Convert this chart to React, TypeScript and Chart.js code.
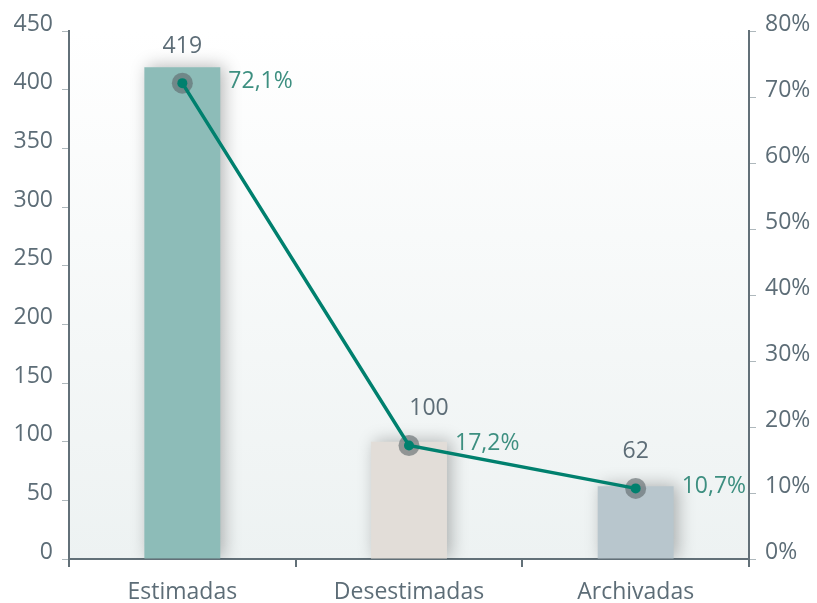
import React, { useEffect, useRef } from "react";
import { Chart, registerables } from "chart.js";

Chart.register(...registerables);

const categories = ["Estimadas", "Desestimadas", "Archivadas"];
const counts = [419, 100, 62];
const percents = [72.1, 17.2, 10.7];
const barColors = ["#8dbcb8", "#e2ddd8", "#b8c6cd"];
const leftTicks = [0, 50, 100, 150, 200, 250, 300, 350, 400, 450];
const rightTicks = [0, 10, 20, 30, 40, 50, 60, 70, 80];
const countLabelShift = [0, 20, 0];

const FONT = "'Open Sans'";
const FS = 23;
const TEXT = "#5d6d77";
const TEAL = "#00806e";
const PCT = "#3d8f80";
const AXIS = "#627078";

const bgPlugin = {
  id: "bgGrad",
  beforeDraw(chart: any) {
    const { ctx, chartArea } = chart;
    if (!chartArea) return;
    const g = ctx.createLinearGradient(0, chartArea.top, 0, chartArea.bottom);
    g.addColorStop(0, "#ffffff");
    g.addColorStop(1, "#edf2f2");
    ctx.save();
    ctx.fillStyle = g;
    ctx.fillRect(chartArea.left, chartArea.top, chartArea.right - chartArea.left, chartArea.bottom - chartArea.top);
    ctx.restore();
  },
};

const shadowPlugin = {
  id: "barShadow",
  beforeDatasetDraw(chart: any, args: any) {
    if (args.meta.type !== "bar") return;
    const ctx = chart.ctx;
    ctx.save();
    ctx.shadowColor = "rgba(0,0,0,0.28)";
    ctx.shadowBlur = 16;
    ctx.shadowOffsetX = 4;
    ctx.shadowOffsetY = -1;
  },
  afterDatasetDraw(chart: any, args: any) {
    if (args.meta.type !== "bar") return;
    chart.ctx.restore();
  },
};

const labelPlugin = {
  id: "labels",
  afterDatasetsDraw(chart: any) {
    const ctx = chart.ctx;
    ctx.save();
    ctx.font = `${FS}px ${FONT}`;
    const lineMeta = chart.getDatasetMeta(2);
    lineMeta.data.forEach((el: any, i: number) => {
      ctx.fillStyle = TEXT;
      ctx.textAlign = "center";
      ctx.textBaseline = "middle";
      ctx.fillText(String(counts[i]), el.x + countLabelShift[i], el.y - 37);
      ctx.fillStyle = PCT;
      ctx.textAlign = "left";
      ctx.fillText(percents[i].toFixed(1).replace(".", ",") + "%", el.x + 46, el.y - 2);
    });
    ctx.restore();
  },
};

export default function App() {
  const ref = useRef<HTMLCanvasElement>(null);
  useEffect(() => {
    document.body.style.margin = "0";
    const chart = new Chart(ref.current!, {
      type: "bar",
      data: {
        labels: categories,
        datasets: [
          {
            type: "bar",
            data: counts,
            backgroundColor: barColors,
            yAxisID: "y",
            barPercentage: 0.335,
            categoryPercentage: 1,
            order: 3,
          } as any,
          {
            type: "line",
            data: percents,
            yAxisID: "y1",
            showLine: false,
            pointRadius: 10.5,
            pointBackgroundColor: "rgba(95,105,108,0.62)",
            pointBorderWidth: 0,
            order: 2,
          } as any,
          {
            type: "line",
            data: percents,
            yAxisID: "y1",
            borderColor: TEAL,
            borderWidth: 3.5,
            pointRadius: 5,
            pointBackgroundColor: TEAL,
            pointBorderWidth: 0,
            tension: 0,
            order: 1,
          } as any,
        ],
      },
      options: {
        responsive: false,
        animation: false,
        layout: { padding: { top: 31, left: 0, right: 0, bottom: 0 } },
        plugins: { legend: { display: false }, tooltip: { enabled: false } },
        scales: {
          x: {
            grid: {
              display: true,
              drawOnChartArea: false,
              drawTicks: true,
              tickLength: 8,
              color: AXIS,
              lineWidth: 2,
              offset: true,
            },
            border: { display: true, color: AXIS, width: 2 },
            ticks: { color: TEXT, font: { family: FONT, size: FS }, padding: 12 },
            afterFit: (s: any) => { s.height = 44; },
          },
          y: {
            position: "left",
            min: 0,
            max: 450,
            afterBuildTicks: (s: any) => { s.ticks = leftTicks.map((v) => ({ value: v })); },
            grid: { drawOnChartArea: false, drawTicks: true, tickLength: 7, color: "#aeb8bc", lineWidth: 1 },
            border: { display: true, color: AXIS, width: 2 },
            ticks: { color: TEXT, font: { family: FONT, size: FS }, padding: 9, labelOffset: -7 },
            afterFit: (s: any) => { s.width = 69; },
          },
          y1: {
            position: "right",
            min: 0,
            max: 80,
            afterBuildTicks: (s: any) => { s.ticks = rightTicks.map((v) => ({ value: v })); },
            grid: { drawOnChartArea: false, drawTicks: true, tickLength: 7, color: "#aeb8bc", lineWidth: 1 },
            border: { display: true, color: AXIS, width: 2 },
            ticks: {
              color: TEXT,
              font: { family: FONT, size: FS },
              padding: 9,
              labelOffset: -7,
              callback: (v: any) => v + "%",
            },
            afterFit: (s: any) => { s.width = 68; },
          },
        },
      },
      plugins: [bgPlugin, shadowPlugin, labelPlugin],
    });
    return () => chart.destroy();
  }, []);
  return (
    <div style={{ position: "absolute", left: 0, top: 0, width: 817, height: 603 }}>
      <canvas ref={ref} width={817} height={603} />
    </div>
  );
}
